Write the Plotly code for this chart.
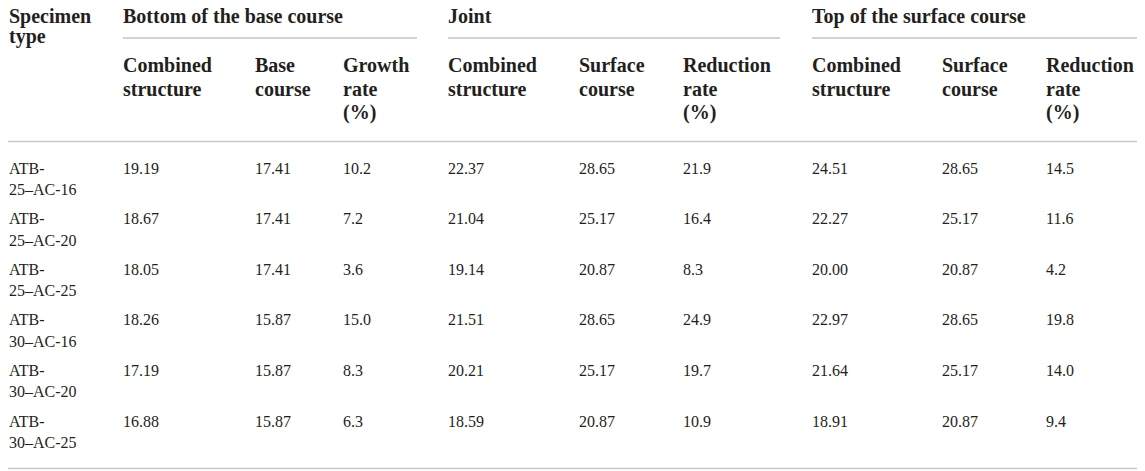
import plotly.graph_objects as go

# table data
specimens = ["ATB-25–AC-16", "ATB-25–AC-20", "ATB-25–AC-25",
             "ATB-30–AC-16", "ATB-30–AC-20", "ATB-30–AC-25"]
bottom_combined = [19.19, 18.67, 18.05, 18.26, 17.19, 16.88]
bottom_base = [17.41, 17.41, 17.41, 15.87, 15.87, 15.87]
growth_rate = [10.2, 7.2, 3.6, 15.0, 8.3, 6.3]
joint_combined = [22.37, 21.04, 19.14, 21.51, 20.21, 18.59]
joint_surface = [28.65, 25.17, 20.87, 28.65, 25.17, 20.87]
joint_reduction = [21.9, 16.4, 8.3, 24.9, 19.7, 10.9]
top_combined = [24.51, 22.27, 20.00, 22.97, 21.64, 18.91]
top_surface = [28.65, 25.17, 20.87, 28.65, 25.17, 20.87]
top_reduction = [14.5, 11.6, 4.2, 19.8, 14.0, 9.4]

first_header = ["Specimen", "type"]
group_titles = ["Bottom of the base course", "Joint", "Top of the surface course"]
sub_headers = [["Combined", "structure"], ["Base", "course"], ["Growth", "rate", "(%)"],
               ["Combined", "structure"], ["Surface", "course"], ["Reduction", "rate", "(%)"],
               ["Combined", "structure"], ["Surface", "course"], ["Reduction", "rate", "(%)"]]

# layout of the table (pixels of the screenshot; the page puts the figure 8px in)
W, H = 1145, 471
OFF = 8
label_x = OFF + 1
col_x = [123, 255, 343, 448, 579, 683, 812, 942, 1046]
group_span = [(123, 417), (448, 780), (812, 1145)]
top_line_y, line_step = 18, 20
row_y0, row_step, line_gap = 169.5, 50.6, 21.5
TXT = "#231f20"
RULE = "#c6c6c6"

columns = [
    [f"{v:.2f}" for v in bottom_combined],
    [f"{v:.2f}" for v in bottom_base],
    [f"{v:.1f}" for v in growth_rate],
    [f"{v:.2f}" for v in joint_combined],
    [f"{v:.2f}" for v in joint_surface],
    [f"{v:.1f}" for v in joint_reduction],
    [f"{v:.2f}" for v in top_combined],
    [f"{v:.2f}" for v in top_surface],
    [f"{v:.1f}" for v in top_reduction],
]

# header text positions
hx, hy, ht = [], [], []
for k, s in enumerate(first_header):
    hx.append(label_x); hy.append(top_line_y + k * line_step); ht.append(s)
for (x0, x1), g in zip(group_span, group_titles):
    hx.append(x0); hy.append(top_line_y); ht.append(g)
for cx, lines in zip(col_x, sub_headers):
    for k, s in enumerate(lines):
        hx.append(cx); hy.append(67 + k * 23.5); ht.append(s)

# body text positions
bx, by, bt = [], [], []
for i, name in enumerate(specimens):
    y = row_y0 + i * row_step
    a, b = name.split("-", 1)
    bx += [label_x, label_x]; by += [y, y + line_gap]; bt += [a + "-", b]
    for cx, col in zip(col_x, columns):
        bx.append(cx); by.append(y); bt.append(col[i])

fig = go.Figure()
fig.add_trace(go.Scatter(x=hx, y=hy, text=ht, mode="text", textposition="middle right",
                         textfont=dict(family="Liberation Serif", size=20, color=TXT, weight="bold"),
                         hoverinfo="skip", showlegend=False, cliponaxis=False))
fig.add_trace(go.Scatter(x=bx, y=by, text=bt, mode="text", textposition="middle right",
                         textfont=dict(family="Liberation Serif", size=16, color=TXT),
                         hoverinfo="skip", showlegend=False, cliponaxis=False))

# rules
for x0, x1 in group_span:
    fig.add_shape(type="line", x0=x0, x1=x1, y0=38, y1=38, xref="x", yref="y",
                  line=dict(color=RULE, width=1.5))
for yy in [141.5, 468.5]:
    fig.add_shape(type="line", x0=OFF, x1=W + OFF, y0=yy, y1=yy, xref="x", yref="y",
                  line=dict(color=RULE, width=1.5))

fig.update_layout(
    width=W, height=H,
    margin=dict(l=0, r=0, t=0, b=0),
    paper_bgcolor="white", plot_bgcolor="white",
    xaxis=dict(range=[OFF, W + OFF], visible=False, fixedrange=True),
    yaxis=dict(range=[H + OFF, OFF], visible=False, fixedrange=True),
)
fig.write_html("out.html")
